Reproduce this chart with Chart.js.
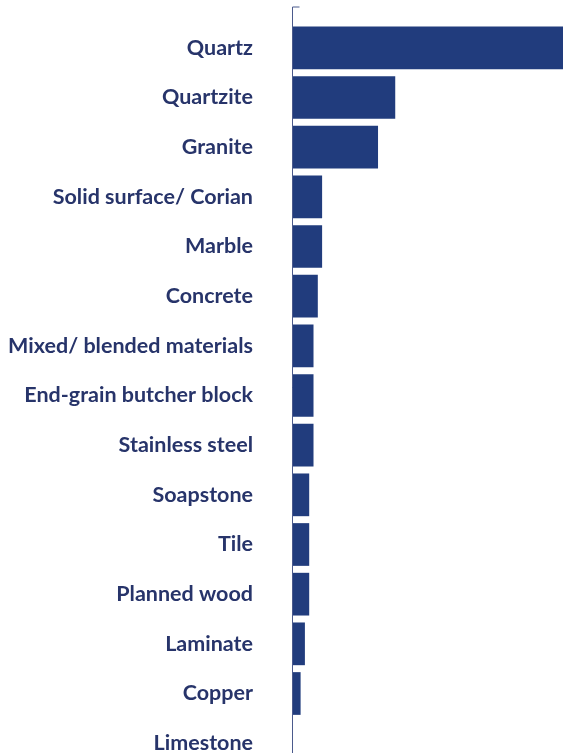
<!DOCTYPE html>
<html>
<head>
<meta charset="utf-8">
<script src="https://cdn.jsdelivr.net/npm/chart.js@4/dist/chart.umd.min.js"></script>
<style>
  html, body { margin: 0; padding: 0; background: #fff; overflow: hidden; }
  canvas { display: block; }
</style>
</head>
<body>
<canvas id="chart" width="563" height="768"></canvas>
<script>
// countertop materials, share of respondents (%)
const materials = [
    "Quartz", "Quartzite", "Granite", "Solid surface/ Corian", "Marble",
    "Concrete", "Mixed/ blended materials", "End-grain butcher block",
    "Stainless steel", "Soapstone", "Tile", "Planned wood", "Laminate",
    "Copper", "Limestone"
];
const shares = [64, 24, 20, 7, 7, 6, 5, 5, 5, 4, 4, 4, 3, 2, 0];
const axisMax = 63;

const navy = "#213c7d";
const labelColor = "#27346a";

// vertical axis line with a short cap at the top
const axisLine = {
    id: "axisLine",
    afterDatasetsDraw(chart) {
        const { ctx, chartArea } = chart;
        const x = Math.round(chartArea.left) + 0.5;
        ctx.save();
        ctx.strokeStyle = "#4b5a8c";
        ctx.lineWidth = 1;
        ctx.beginPath();
        ctx.moveTo(x + 7, chartArea.top - 16);
        ctx.lineTo(x, chartArea.top - 16);
        ctx.lineTo(x, chartArea.bottom);
        ctx.stroke();
        ctx.restore();
    }
};

const ctx = document.getElementById("chart");

new Chart(ctx, {
    type: "bar",
    data: {
        labels: materials,
        datasets: [{
            data: shares,
            backgroundColor: navy,
            borderWidth: 0,
            categoryPercentage: 1,
            barPercentage: 0.86
        }]
    },
    options: {
        indexAxis: "y",
        responsive: false,
        animation: false,
        layout: { padding: { top: 23, right: 0, bottom: 0, left: 0 } },
        plugins: {
            legend: { display: false },
            tooltip: { enabled: false }
        },
        scales: {
            x: {
                display: false,
                min: 0,
                max: axisMax
            },
            y: {
                afterFit(scale) {
                    scale.width = 292;
                    // label padding should only push text away from the axis
                    scale.paddingTop = 0;
                    scale.paddingBottom = 0;
                },
                border: { display: false },
                grid: { display: false, drawTicks: false },
                ticks: {
                    padding: 39,
                    color: labelColor,
                    font: { family: "Lato", weight: "bold", size: 21.5 }
                }
            }
        }
    },
    plugins: [axisLine]
});
</script>
</body>
</html>
